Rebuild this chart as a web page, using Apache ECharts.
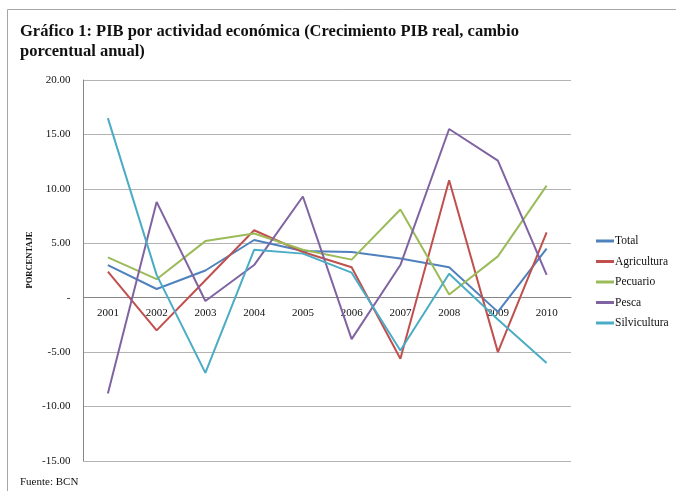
<!DOCTYPE html>
<html>
<head>
<meta charset="utf-8">
<script src="https://cdn.jsdelivr.net/npm/echarts@6/dist/echarts.min.js"></script>
<style>
html,body{margin:0;padding:0;background:#fff;}
#chart{width:676px;height:491px;}
</style>
</head>
<body>
<div id="chart"></div>
<script>
const years = ['2001','2002','2003','2004','2005','2006','2007','2008','2009','2010'];
const total        = [3.0, 0.8, 2.5, 5.3, 4.3, 4.2, 3.6, 2.8, -1.3, 4.5];
const agricultura  = [2.4, -3.0, 1.6, 6.2, 4.2, 2.8, -5.6, 10.8, -5.0, 6.0];
const pecuario     = [3.7, 1.7, 5.2, 5.9, 4.4, 3.5, 8.1, 0.3, 3.8, 10.3];
const pesca        = [-8.8, 8.8, -0.3, 3.0, 9.3, -3.8, 3.0, 15.5, 12.6, 2.1];
const silvicultura = [16.5, 2.1, -6.9, 4.4, 4.05, 2.3, -4.85, 2.2, -2.0, -6.0];
const seriesNames  = ['Total','Agricultura','Pecuario','Pesca','Silvicultura'];
const seriesColors = ['#4F81BD','#C0504D','#9BBB59','#8064A2','#4BACC6'];
const seriesData   = [total, agricultura, pecuario, pesca, silvicultura];

const serif = '"Liberation Serif", "DejaVu Serif", serif';
const chart = echarts.init(document.getElementById('chart'));
chart.setOption({
  animation: false,
  backgroundColor: '#fff',
  title: {
    text: 'Gráfico 1: PIB por actividad económica (Crecimiento PIB real, cambio\nporcentual anual)',
    left: 15, top: 17,
    textStyle: {fontFamily: serif, fontWeight: 'bold', fontSize: 16.5, color: '#111', lineHeight: 20}
  },
  graphic: [
    {type: 'rect', shape: {x: 7.5, y: 9.5, width: 720, height: 520}, style: {fill: 'none', stroke: '#a6a6a6', lineWidth: 1}, silent: true},
    {type: 'text', left: 20, top: 477, style: {text: 'Fuente: BCN', font: '11px ' + serif, fill: '#111'}},
    {type: 'text', x: 30, y: 260, rotation: Math.PI / 2,
     style: {text: 'PORCENTAJE', font: 'bold 8.5px ' + serif, fill: '#111', align: 'center', verticalAlign: 'middle'}}
  ],
  legend: {
    orient: 'vertical',
    left: 591, top: 230,
    itemWidth: 18, itemHeight: 3, itemGap: 8.5,
    icon: 'rect',
    textStyle: {fontFamily: serif, fontSize: 11.5, color: '#111', padding: [0,0,0,-4]},
    data: seriesNames
  },
  grid: {left: 83.5, right: 105, top: 80, bottom: 30},
  xAxis: {
    type: 'category',
    data: years,
    boundaryGap: true,
    axisLine: {onZero: true, lineStyle: {color: '#868686', width: 1}},
    axisTick: {show: false},
    axisLabel: {fontFamily: serif, fontSize: 11, color: '#111', margin: -153}
  },
  yAxis: {
    type: 'value',
    min: -15, max: 20, interval: 5,
    axisLine: {show: true, lineStyle: {color: '#868686'}},
    axisTick: {show: false},
    splitLine: {lineStyle: {color: '#b3b3b3'}},
    axisLabel: {
      fontFamily: serif, fontSize: 11, color: '#111', margin: 13,
      formatter: v => v === 0 ? '-' : v.toFixed(2)
    }
  },
  series: seriesNames.map((n, i) => ({
    name: n,
    type: 'line',
    data: seriesData[i],
    showSymbol: false,
    symbol: 'none',
    color: seriesColors[i],
    lineStyle: {width: 2, color: seriesColors[i]}
  }))
});
</script>
</body>
</html>
